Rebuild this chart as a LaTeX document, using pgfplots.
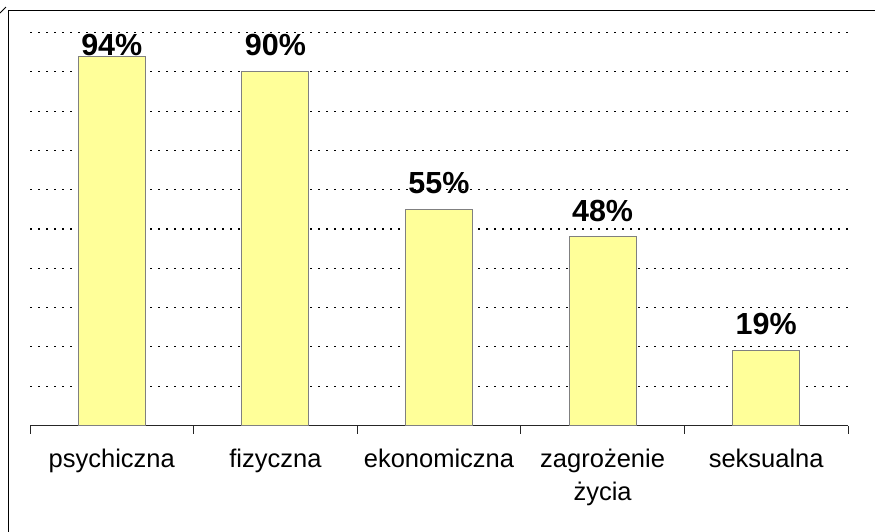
\documentclass[border=0pt]{standalone}
\usepackage{pgfplots}
\pgfplotsset{compat=1.18}
\usepackage{fontspec}
\setmainfont{Liberation Sans}
\definecolor{barfill}{HTML}{FFFF99}
\definecolor{baredge}{HTML}{808080}

% value, and how far its label sits above the bar (94% is pushed down by the plot top)
\pgfplotstableread{
x y s
0 94 0
1 90 15
2 55 15
3 48 15
4 19 15
}\violence

\begin{document}
\begin{tikzpicture}
\useasboundingbox (0pt,-531pt) rectangle (875pt,0pt);
% chart frame (cut at right and bottom, as in the source)
\draw[line width=1.8pt] (8.5pt,-540pt) -- (8.5pt,-10.5pt) -- (880pt,-10.5pt);
\draw[line width=1pt] (0pt,-13pt) -- (6pt,-7pt);
\begin{axis}[
    at={(30pt,-425.5pt)}, anchor=south west,
    scale only axis, width=818pt, height=393pt,
    xmin=-0.5, xmax=4.5, ymin=0, ymax=100,
    axis x line*=bottom, axis y line*=left,
    x axis line style={line width=1pt, black!85},
    y axis line style={draw=none},
    xtick={0,...,4},
    xticklabels={psychiczna, fizyczna, ekonomiczna, {zagrożenie\\życia}, seksualna},
    major x tick style={draw=none},
    minor xtick={-0.5,0.5,...,4.5},
    minor x tick style={line width=1pt, black!85},
    minor tick length=8pt,
    tick align=outside,
    xticklabel style={font=\fontsize{25.5}{33}\selectfont, align=center, yshift=-16pt},
    ytick={10,20,...,100}, yticklabels={},
    ytick style={draw=none},
    ymajorgrids,
    grid style={black, line width=1.1pt, dash pattern=on 2pt off 6pt},
    /pgf/number format/assume math mode=true,
    clip=false,
]
\addplot[ybar, bar width=67pt, fill=barfill, draw=baredge, line width=1.1pt,
    visualization depends on={\thisrow{s}\as\labshift},
    nodes near coords={\pgfmathprintnumber{\pgfplotspointmeta}\%},
    nodes near coords style={font=\bfseries\fontsize{30.5}{30.5}\selectfont, text=black,
        anchor=south, inner sep=0pt, yshift=\labshift pt}]
    table[x=x, y=y] {\violence};
\end{axis}
\end{tikzpicture}
\end{document}
